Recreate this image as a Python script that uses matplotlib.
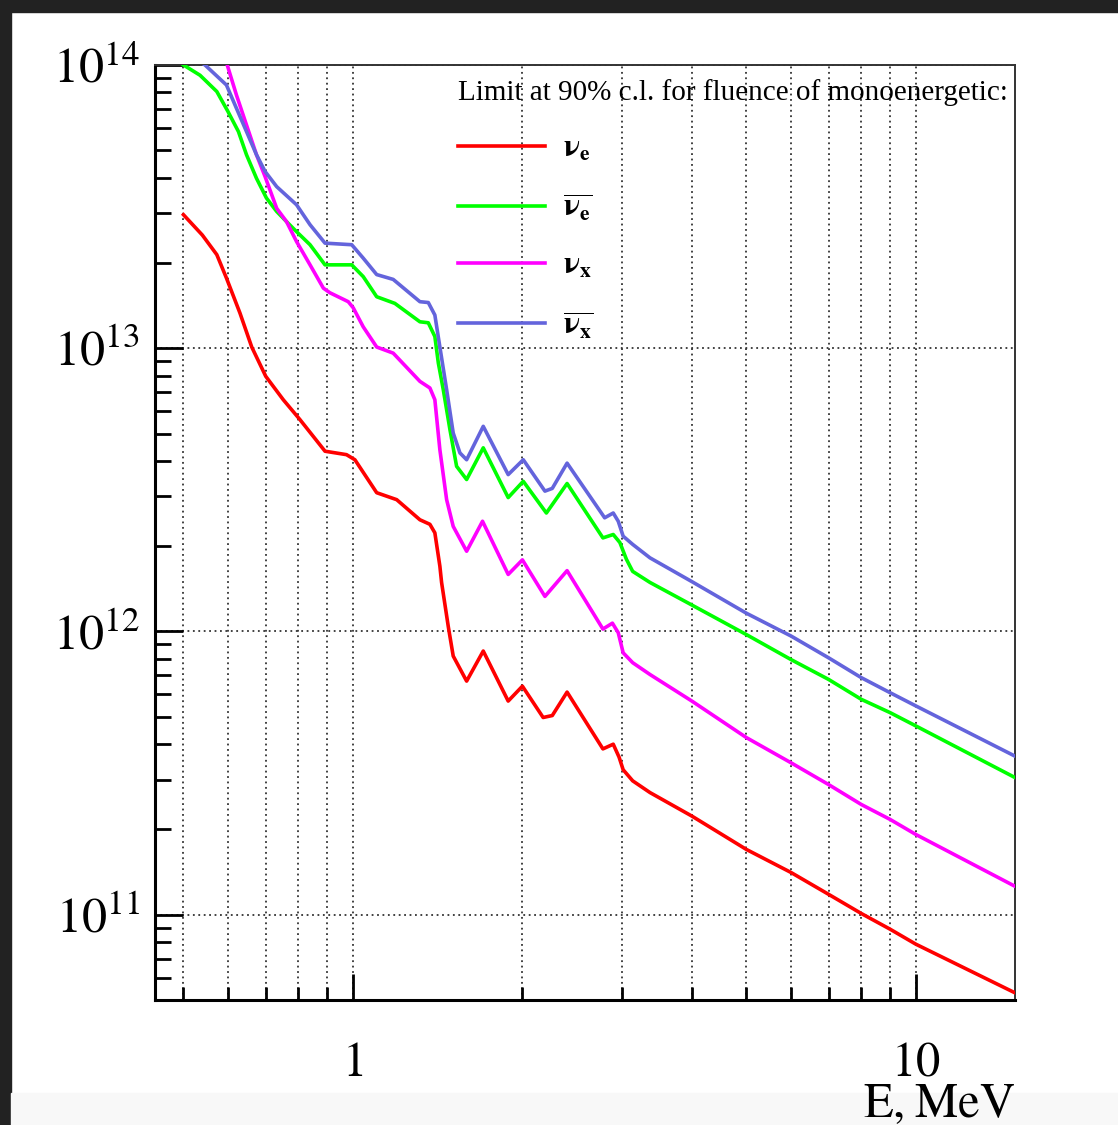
import matplotlib
matplotlib.use('Agg')
import matplotlib.pyplot as plt
from matplotlib.patches import Rectangle
from matplotlib.ticker import FixedLocator, FixedFormatter, NullFormatter

# --- data (E in MeV, fluence limit) ---
E_nue = [0.50, 0.54, 0.573, 0.596, 0.63, 0.661, 0.70, 0.752, 0.805, 0.892, 0.974, 1.008,
         1.102, 1.196, 1.315, 1.37, 1.398, 1.427, 1.437, 1.477, 1.507, 1.592, 1.704, 1.887,
         2.0, 2.177, 2.26, 2.401, 2.78, 2.90, 2.97, 3.02, 3.14, 3.37, 4, 5, 6, 7, 8, 9, 10, 15]
F_nue = [2.96e13, 2.51e13, 2.14e13, 1.77e13, 1.33e13, 1.01e13, 7.96e12, 6.58e12, 5.60e12,
         4.33e12, 4.21e12, 4.04e12, 3.09e12, 2.92e12, 2.48e12, 2.39e12, 2.23e12, 1.70e12,
         1.49e12, 1.04e12, 8.19e11, 6.68e11, 8.53e11, 5.68e11, 6.41e11, 4.97e11, 5.05e11,
         6.11e11, 3.85e11, 4.00e11, 3.60e11, 3.25e11, 2.97e11, 2.70e11, 2.23e11, 1.70e11,
         1.41e11, 1.18e11, 1.01e11, 8.89e10, 7.87e10, 5.3e10]

E_anue = [0.50, 0.535, 0.573, 0.60, 0.626, 0.647, 0.674, 0.702, 0.732, 0.762, 0.794, 0.839,
          0.892, 0.995, 1.043, 1.102, 1.187, 1.315, 1.361, 1.398, 1.418, 1.447, 1.487, 1.528,
          1.592, 1.704, 1.887, 2.007, 2.206, 2.401, 2.78, 2.90, 2.98, 3.06, 3.14, 3.37,
          4, 5, 6, 7, 8, 9, 10, 15]
F_anue = [1.0e14, 9.2e13, 8.06e13, 6.84e13, 5.82e13, 4.82e13, 3.98e13, 3.39e13, 3.04e13,
          2.80e13, 2.58e13, 2.32e13, 1.97e13, 1.97e13, 1.79e13, 1.52e13, 1.44e13, 1.24e13,
          1.23e13, 1.10e13, 8.87e12, 7.14e12, 5.16e12, 3.83e12, 3.44e12, 4.45e12, 2.97e12,
          3.39e12, 2.62e12, 3.33e12, 2.14e12, 2.20e12, 2.06e12, 1.80e12, 1.63e12, 1.49e12,
          1.24e12, 9.75e11, 7.96e11, 6.77e11, 5.76e11, 5.17e11, 4.64e11, 3.05e11]

E_nux = [0.50, 0.598, 0.621, 0.647, 0.674, 0.698, 0.732, 0.762, 0.794, 0.839, 0.886, 0.910,
         0.981, 1.001, 1.043, 1.102, 1.179, 1.315, 1.37, 1.398, 1.427, 1.467, 1.507, 1.592,
         1.699, 1.887, 2.0, 2.193, 2.401, 2.78, 2.89, 2.96, 3.02, 3.14, 3.37,
         4, 5, 6, 7, 8, 9, 10, 15]
F_nux = [3.0e14, 1.0e14, 7.83e13, 6.14e13, 4.82e13, 4.04e13, 3.12e13, 2.80e13, 2.38e13,
         1.97e13, 1.63e13, 1.57e13, 1.46e13, 1.39e13, 1.19e13, 1.01e13, 9.61e12, 7.64e12,
         7.24e12, 6.58e12, 4.38e12, 2.92e12, 2.35e12, 1.92e12, 2.45e12, 1.59e12, 1.79e12,
         1.33e12, 1.64e12, 1.02e12, 1.07e12, 9.9e11, 8.41e11, 7.76e11, 7.05e11,
         5.68e11, 4.22e11, 3.44e11, 2.88e11, 2.45e11, 2.17e11, 1.92e11, 1.26e11]

E_anux = [0.50, 0.546, 0.596, 0.621, 0.647, 0.674, 0.698, 0.732, 0.794, 0.839, 0.892, 0.995,
          1.043, 1.102, 1.179, 1.315, 1.361, 1.398, 1.427, 1.467, 1.507, 1.549, 1.592, 1.704,
          1.887, 2.007, 2.193, 2.26, 2.401, 2.80, 2.90, 2.96, 3.02, 3.14, 3.37,
          4, 5, 6, 7, 8, 9, 10, 15]
F_anux = [1.12e14, 1.0e14, 8.5e13, 7.03e13, 5.82e13, 4.82e13, 4.21e13, 3.72e13, 3.21e13,
          2.73e13, 2.35e13, 2.32e13, 2.08e13, 1.82e13, 1.75e13, 1.46e13, 1.45e13, 1.31e13,
          1.01e13, 7.14e12, 5.02e12, 4.27e12, 4.04e12, 5.30e12, 3.58e12, 4.04e12, 3.13e12,
          3.20e12, 3.93e12, 2.52e12, 2.62e12, 2.45e12, 2.17e12, 2.03e12, 1.82e12,
          1.50e12, 1.16e12, 9.64e11, 8.07e11, 6.87e11, 6.08e11, 5.46e11, 3.63e11]

labels = [r'$\mathbf{\nu_e}$', r'$\overline{\mathbf{\nu_e}}$',
          r'$\mathbf{\nu_x}$', r'$\overline{\mathbf{\nu_x}}$']
colors = ['#ff0000', '#00ff00', '#ff00ff', '#6464dc']
title = 'Limit at 90% c.l. for fluence of monoenergetic:'

x_major = [1, 10]
x_major_labels = [r'$1$', r'$10$']
x_minor = [0.5, 0.6, 0.7, 0.8, 0.9, 2, 3, 4, 5, 6, 7, 8, 9]
y_major = [1e11, 1e12, 1e13, 1e14]
y_major_labels = [r'$10^{11}$', r'$10^{12}$', r'$10^{13}$', r'$10^{14}$']

plt.rcParams['font.family'] = 'Liberation Serif'
plt.rcParams['mathtext.fontset'] = 'stix'

W, H = 1118, 1125
fig = plt.figure(figsize=(W / 100, H / 100), dpi=100)

# screenshot frame around the canvas
fig.add_artist(Rectangle((0, 1 - 12 / H), 1, 12 / H, transform=fig.transFigure,
                         color='#222222', zorder=0))
fig.add_artist(Rectangle((0, 0), 11 / W, 1, transform=fig.transFigure,
                         color='#222222', zorder=0))
fig.add_artist(Rectangle((11 / W, 0), 1, 32 / H, transform=fig.transFigure,
                         color='#f8f8f8', zorder=0))

ax = fig.add_axes([155 / W, 125 / H, 860 / W, 935 / H])
ax.set_xscale('log')
ax.set_yscale('log')

series = [(E_nue, F_nue), (E_anue, F_anue), (E_nux, F_nux), (E_anux, F_anux)]
handles = []
for (e, f), c, lab in zip(series, colors, labels):
    h, = ax.plot(e, f, color=c, lw=2.6, label=lab, zorder=3)
    handles.append(h)

ax.set_xlim(0.445, 15)
ax.set_ylim(5e10, 1e14)

ax.xaxis.set_major_locator(FixedLocator(x_major))
ax.xaxis.set_major_formatter(FixedFormatter(x_major_labels))
ax.xaxis.set_minor_locator(FixedLocator(x_minor))
ax.xaxis.set_minor_formatter(NullFormatter())

y_minor = [k * 10.0 ** n for n in range(10, 14) for k in range(2, 10)]
y_minor = [v for v in y_minor if 5e10 <= v <= 1e14]
ax.yaxis.set_major_locator(FixedLocator(y_major))
ax.yaxis.set_major_formatter(FixedFormatter(y_major_labels))
ax.yaxis.set_minor_locator(FixedLocator(y_minor))
ax.yaxis.set_minor_formatter(NullFormatter())

ax.tick_params(axis='both', which='both', direction='in', top=False, right=False,
               width=2.0, color='black')
ax.tick_params(axis='y', which='major', length=20, labelsize=36, pad=11)
ax.tick_params(axis='y', which='minor', length=11.5)
ax.tick_params(axis='x', which='major', length=18.5, labelsize=35, pad=30)
ax.tick_params(axis='x', which='minor', length=9.5)

ax.xaxis.grid(True, which='both', color='#333333', linestyle=(0, (1, 2)), lw=1.3)
ax.yaxis.grid(True, which='major', color='#333333', linestyle=(0, (1, 2)), lw=1.3)
ax.set_axisbelow(True)

for s in ['left', 'bottom']:
    ax.spines[s].set_linewidth(2.2)
for s in ['top', 'right']:
    ax.spines[s].set_linewidth(1.4)
    ax.spines[s].set_color('#333333')

ax.set_xlabel(r'$\mathrm{E{,}\;MeV}$', loc='right', fontsize=35)
ax.xaxis.set_label_coords(1.0, -0.089)

leg = ax.legend(handles=handles, labels=labels, title=title, loc='upper left',
                bbox_to_anchor=((458 - 155) / 860, (1000 - 79) / 935),
                frameon=False, fontsize=22, title_fontsize=21, alignment='left',
                handlelength=2.85, handletextpad=0.6, labelspacing=0.93,
                borderpad=0, borderaxespad=0)
for line in leg.get_lines():
    line.set_linewidth(2.6)

fig.savefig('out.png', dpi=100)
